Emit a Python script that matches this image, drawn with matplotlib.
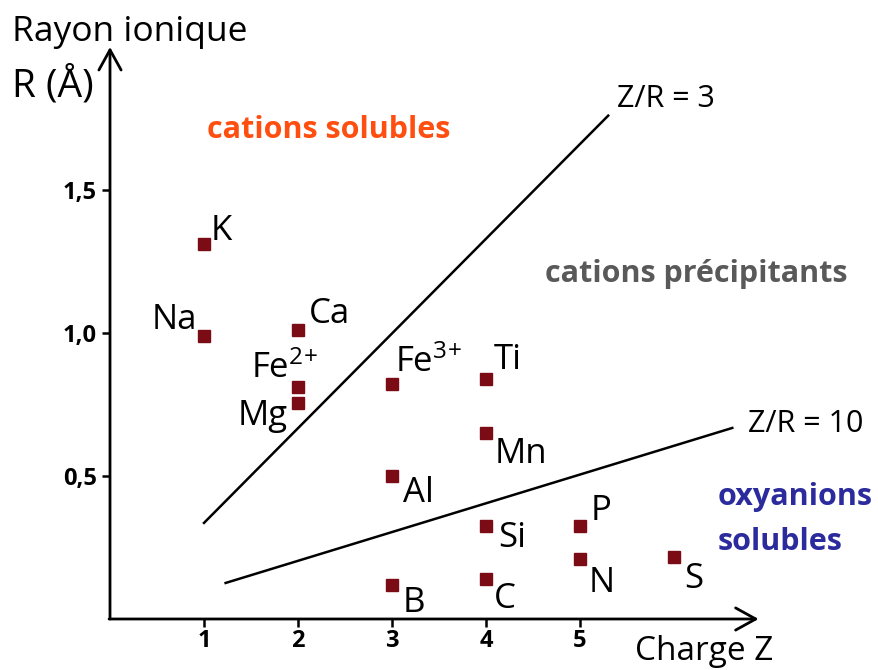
import matplotlib
matplotlib.use("Agg")
import matplotlib.pyplot as plt

plt.rcParams['font.family'] = ['Open Sans', 'DejaVu Sans']
plt.rcParams['mathtext.fontset'] = 'custom'
plt.rcParams['mathtext.rm'] = 'Open Sans'
plt.rcParams['mathtext.it'] = 'Open Sans'
plt.rcParams['mathtext.default'] = 'regular'

# ---- data ----
elements = ['K', 'Na', 'Ca', r'Fe$^{2\!+}$', 'Mg', r'Fe$^{3\!+}$', 'Ti', 'Mn', 'Al', 'B', 'Si', 'C', 'P', 'N', 'S']
charge = [1, 1, 2, 2, 2, 3, 4, 4, 3, 3, 4, 4, 5, 5, 6]
radius = [1.31, 0.99, 1.01, 0.81, 0.755, 0.82, 0.84, 0.65, 0.50, 0.12, 0.325, 0.14, 0.325, 0.21, 0.217]

line3_z = [1.0, 5.3]
line3_r = [0.336, 1.76]
line10_z = [1.23, 6.62]
line10_r = [0.126, 0.668]

xticks = [1, 2, 3, 4, 5]
xticklabels = ['1', '2', '3', '4', '5']
yticks = [0.5, 1.0, 1.5]
yticklabels = ['0,5', '1,0', '1,5']

# ---- style: label offsets (pixels) and alignment ----
label_offsets = [(7, 4), (-7, 7), (11, 7), (20, 9), (-10, -22), (3, 12), (8, 10), (9, -30),
                 (11, -26), (11, -27), (12, -21), (8, -29), (11, 6), (9, -33), (10, -31)]
label_ha = ['left', 'right', 'left', 'right', 'right', 'left', 'left', 'left',
            'left', 'left', 'left', 'left', 'left', 'left', 'left']

W, H = 879, 670
fig = plt.figure(figsize=(W / 100, H / 100), dpi=100)
ax = fig.add_axes([0, 0, 1, 1])
x0px, y0px, sx, sy = 110, 619, 94.0, 286.0
ax.set_xlim(-x0px / sx, (W - x0px) / sx)
ax.set_ylim(-(H - y0px) / sy, y0px / sy)
ax.patch.set_visible(False)

for s in ['top', 'right', 'left', 'bottom']:
    ax.spines[s].set_visible(False)
ax.spines['left'].set_position(('data', 0))
ax.spines['bottom'].set_position(('data', 0))

ax.set_xticks(xticks)
ax.set_xticklabels(xticklabels)
ax.set_yticks(yticks)
ax.set_yticklabels(yticklabels)
ax.tick_params(axis='both', direction='out', length=5.5, width=1.8, color='black',
               labelsize=17, pad=2)
for lab in ax.get_xticklabels() + ax.get_yticklabels():
    lab.set_fontweight('bold')
ax.tick_params(axis='y', pad=4)

arrow_kw = dict(arrowstyle='->,head_length=1.45,head_width=0.8', lw=2.0, color='black',
                shrinkA=0, shrinkB=0)
ax.annotate('', xy=(0, 2.0), xytext=(0, 0), arrowprops=arrow_kw)
ax.annotate('', xy=(6.9, 0), xytext=(-0.01, 0), arrowprops=arrow_kw)

ax.plot(line3_z, line3_r, color='black', lw=1.8)
ax.plot(line10_z, line10_r, color='black', lw=1.8)

ax.plot(charge, radius, linestyle='none', marker='s', markersize=8, color='#7B0C16')

for name, z, r, off, ha in zip(elements, charge, radius, label_offsets, label_ha):
    ax.annotate(name, xy=(z, r), xytext=off, textcoords='offset pixels',
                ha=ha, va='baseline', fontsize=25, color='black')

def px(x, y):
    return ((x - x0px) / sx, (y0px - y) / sy)

ax.text(*px(12, 41), 'Rayon ionique', fontsize=25.5, ha='left', va='baseline', color='black')
ax.text(*px(12, 97), 'R (Å)', fontsize=28, ha='left', va='baseline', color='black')
ax.text(*px(635, 660), 'Charge Z', fontsize=24, ha='left', va='baseline', color='black')

ax.text(*px(207, 138), 'cations solubles', fontsize=22, fontweight='bold',
        ha='left', va='baseline', color='#FF4F10')
ax.text(*px(545, 282), 'cations précipitants', fontsize=22, fontweight='bold',
        ha='left', va='baseline', color='#595959')
ax.text(*px(718, 505), 'oxyanions', fontsize=22, fontweight='bold',
        ha='left', va='baseline', color='#2B2B9E')
ax.text(*px(718, 550), 'solubles', fontsize=22, fontweight='bold',
        ha='left', va='baseline', color='#2B2B9E')
ax.text(*px(617, 107), 'Z/R = 3', fontsize=22, ha='left', va='baseline', color='black')
ax.text(*px(748, 432), 'Z/R = 10', fontsize=22, ha='left', va='baseline', color='black')

fig.savefig('out.png', dpi=100)
